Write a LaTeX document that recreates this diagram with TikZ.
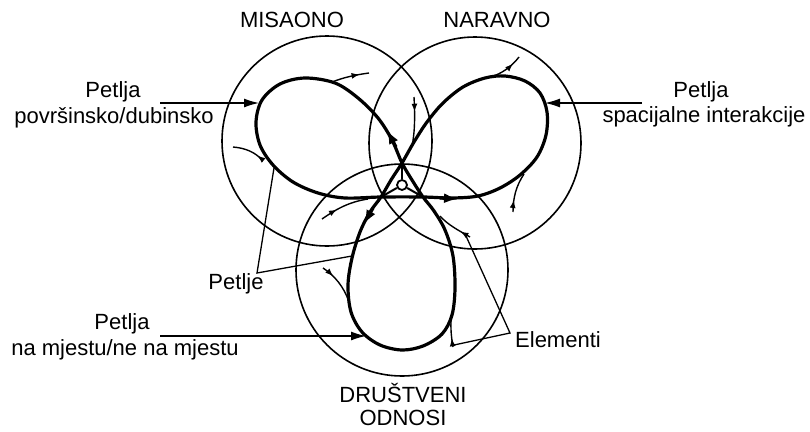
\documentclass[tikz,border=0pt]{standalone}
\usepackage{fontspec}
\setmainfont{Liberation Sans}
\usetikzlibrary{arrows.meta,decorations.markings}
\begin{document}
\begin{tikzpicture}[x=1pt,y=-1pt,
  lbl/.style={font=\fontsize{22}{26}\selectfont, inner sep=0pt},
  ring/.style={draw, circle, line width=1.6pt, inner sep=0pt, outer sep=0pt},
  loopline/.style={line width=3.2pt, line join=round, line cap=round},
  elem/.style={line width=1.4pt},
  ptr/.style={line width=1.3pt},
  bigtip/.style={-{Latex[length=15pt,width=9pt]}},
  looptip/.style={loopline, line cap=butt, -{Latex[length=14pt,width=10pt]}},
  elemarrow/.style={decoration={markings, mark=at position #1 with {\arrow{Latex[length=8pt,width=6pt]}}}, postaction={decorate}}
]
\useasboundingbox (0,0) rectangle (810,431);

% big circles
\node[ring, minimum size=210pt] (mis) at (327,141) {};
\node[ring, minimum size=212pt] (nar) at (475,143) {};
\node[ring, minimum size=212pt] (dru) at (402,270) {};

% central triangle vertices
\coordinate (v1) at (402,163);
\coordinate (v2) at (381,197);
\coordinate (v3) at (423,197);

% trefoil loop
\draw[loopline] plot[smooth cycle, tension=0.55] coordinates {
 (423,197) (412,180) (402,163) (392,140) (378,118) (358,98) (335,83) (305,78)
 (280,84) (262,100) (256,122) (260,145) (273,165) (293,182) (318,193) (345,198)
 (381,197) (423,197) (452,198) (478,196) (500,188) (520,175) (537,157) (546,135)
 (547,112) (540,93) (525,81) (505,76) (485,78) (463,87) (443,103) (427,122)
 (414,142) (402,163) (391,180) (381,197) (370,212) (360,232) (352,258) (348,285)
 (351,312) (362,332) (380,345) (402,350) (423,346) (442,334) (452,315) (455,288)
 (453,256) (445,230) (434,211)};

% hub
\node[circle, draw, line width=1.8pt, minimum size=10pt, inner sep=0pt, fill=white] (hub) at (402,185) {};
\draw[line width=2pt] (hub) -- (v1);
\draw[line width=2pt] (hub) -- (v2);
\draw[line width=2pt] (hub) -- (v3);

% arrows on the loop
\coordinate (a1s) at (396,147); \coordinate (a1e) at (387,130);
\coordinate (a2s) at (373,208); \coordinate (a2e) at (364,224);
\coordinate (a3s) at (440,198); \coordinate (a3e) at (458,199);
\draw[looptip] (a1s) -- (a1e);
\draw[looptip] (a2s) -- (a2e);
\draw[looptip] (a3s) -- (a3e);

% elements
\draw[elem, elemarrow=0.75] (332,82) .. controls (345,77) and (355,75) .. (369,73);
\draw[elem, elemarrow=0.2] (262,160) .. controls (255,152) and (245,148) .. (233,147);
\draw[elem, elemarrow=0.3] (414,97) .. controls (415,115) and (415,132) .. (412,146);
\draw[elem, elemarrow=0.35] (322,219) .. controls (335,210) and (348,202) .. (368,199);
\draw[elem, elemarrow=0.75] (490,77) .. controls (502,74) and (512,66) .. (519,57);
\draw[elem, elemarrow=0.3] (513,212) .. controls (513,198) and (516,186) .. (524,174);
\draw[elem, elemarrow=0.3] (470,237) .. controls (458,230) and (448,225) .. (440,216);
\draw[elem, elemarrow=0.3] (323,268) .. controls (335,276) and (344,287) .. (349,302);
\draw[elem, elemarrow=0.25] (453,347) .. controls (451,335) and (450,325) .. (452,312);

% labels
\node[lbl, anchor=base] (misaono) at (292,27) {MISAONO};
\node[lbl, anchor=base] (naravno) at (497,27) {NARAVNO};
\node[lbl, anchor=base] (drus1) at (403,402) {DRUŠTVENI};
\node[lbl, anchor=base] (drus2) at (403,425) {ODNOSI};
\node[lbl, anchor=base] (lp1) at (113,97) {Petlja};
\node[lbl, anchor=base] (lp2) at (114,123) {površinsko/dubinsko};
\node[lbl, anchor=base] (rp1) at (701,97) {Petlja};
\node[lbl, anchor=base] (rp2) at (704,122) {spacijalne interakcije};
\node[lbl, anchor=base] (bp1) at (122,329) {Petlja};
\node[lbl, anchor=base] (bp2) at (125,355) {na mjestu/ne na mjestu};
\node[lbl, anchor=base] (petlje) at (236,289) {Petlje};
\node[lbl, anchor=base west] (elementi) at (515,347) {Elementi};

% label pointers
\coordinate (la) at (160,103); \coordinate (lt) at (259,103);
\coordinate (ra) at (642,103); \coordinate (rt) at (545,103);
\coordinate (ba) at (160,336); \coordinate (bt) at (366,336);
\draw[ptr, bigtip] (la) -- (lt);
\draw[ptr, bigtip] (ra) -- (rt);
\draw[ptr, bigtip] (ba) -- (bt);

\coordinate (pj) at (257,273); \coordinate (pj1) at (274,168); \coordinate (pj2) at (352,256);
\draw[ptr] (pj1) -- (pj) -- (pj2);
\coordinate (el) at (510,333); \coordinate (el1) at (466,236); \coordinate (el2) at (454,345);
\draw[ptr] (el1) -- (el) -- (el2);
\end{tikzpicture}
\end{document}
